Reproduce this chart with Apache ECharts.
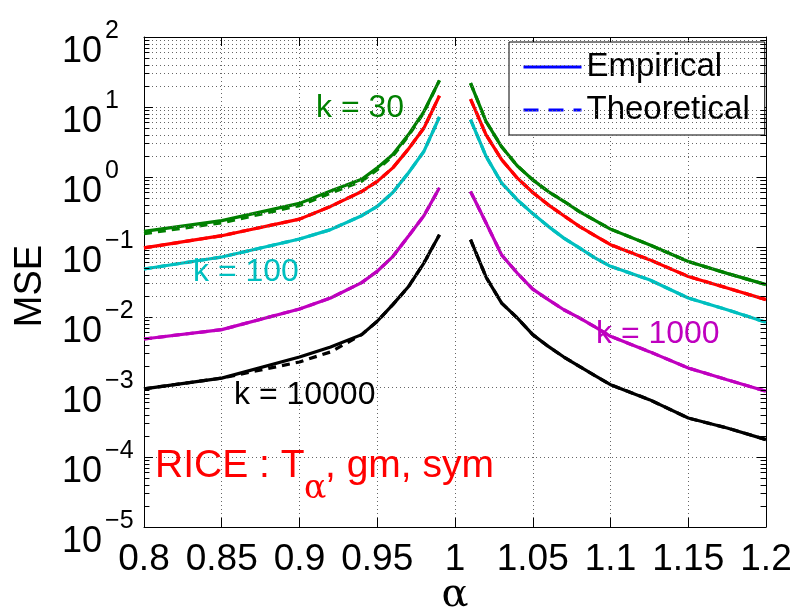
<!DOCTYPE html>
<html>
<head>
<meta charset="utf-8">
<script src="https://cdn.jsdelivr.net/npm/echarts@6/dist/echarts.min.js"></script>
<style>
html,body{margin:0;padding:0;background:#fff;}
#chart{width:801px;height:608px;}
</style>
</head>
<body>
<div id="chart"></div>
<script>
// ---- data ----
const alpha = [0.80,0.85,0.90,0.92,0.94,0.95,0.96,0.97,0.98,0.99,1.00,1.01,1.02,1.03,1.04,1.05,1.06,1.07,1.08,1.09,1.10,1.125,1.15,1.175,1.20];

const k30Emp   = [0.167,0.238,0.42,0.63,0.93,1.35,2.1,4.0,8.6,24, null, 22,6.2,2.7,1.45,0.91,0.62,0.45,0.32,0.24,0.18,0.108,0.062,0.042,0.029];
const k30Theo  = [0.155,0.222,0.39,0.59,0.87,1.27,2.0,3.85,8.4,24, null, 22,6.2,2.7,1.45,0.91,0.62,0.45,0.32,0.24,0.18,0.108,0.062,0.042,0.029];
const k50Emp   = [0.097,0.145,0.25,0.38,0.62,0.865,1.35,2.5,5.0,14.5, null, 13,4.0,1.77,0.97,0.60,0.40,0.28,0.197,0.145,0.108,0.066,0.038,0.026,0.0177];
const k50Theo  = [0.097,0.145,0.25,0.38,0.62,0.865,1.35,2.5,5.0,14.5, null, 13,4.0,1.77,0.97,0.60,0.40,0.28,0.197,0.145,0.108,0.066,0.038,0.026,0.0177];
const k100Emp  = [0.0485,0.072,0.13,0.177,0.28,0.38,0.6,1.14,2.32,7.2, null, 6.6,1.97,0.82,0.474,0.30,0.197,0.134,0.097,0.070,0.053,0.034,0.0187,0.0127,0.0084];
const k100Theo = [0.0485,0.072,0.13,0.177,0.28,0.38,0.6,1.14,2.32,7.2, null, 6.6,1.97,0.82,0.474,0.30,0.197,0.134,0.097,0.070,0.053,0.034,0.0187,0.0127,0.0084];
const k1000Emp = [0.00485,0.0066,0.013,0.0187,0.031,0.045,0.073,0.142,0.28,0.70, null, 0.62,0.22,0.077,0.0425,0.025,0.0177,0.0127,0.0097,0.0072,0.0053,0.0032,0.00187,0.00127,0.00087];
const k1000Theo= [0.00485,0.0066,0.013,0.0187,0.031,0.045,0.073,0.142,0.28,0.70, null, 0.62,0.22,0.077,0.0425,0.025,0.0177,0.0127,0.0097,0.0072,0.0053,0.0032,0.00187,0.00127,0.00087];
const k10000Emp  = [0.00094,0.00134,0.00268,0.00373,0.0056,0.0087,0.015,0.027,0.059,0.15, null, 0.127,0.037,0.0158,0.0097,0.0056,0.0038,0.00268,0.00197,0.00145,0.00108,0.00066,0.00036,0.00026,0.000177];
const k10000Theo = [0.00094,0.00134,0.00228,0.00317,0.0056,0.0087,0.015,0.027,0.059,0.15, null, 0.127,0.037,0.0158,0.0097,0.0056,0.0038,0.00268,0.00197,0.00145,0.00108,0.00066,0.00036,0.00026,0.000177];

const xTicks = [0.8,0.85,0.9,0.95,1,1.05,1.1,1.15,1.2];

const curveColors = ['#008000','#ff0000','#00bfbf','#bf00bf','#000000'];
const empSets  = [k30Emp, k50Emp, k100Emp, k1000Emp, k10000Emp];
const theoSets = [k30Theo, k50Theo, k100Theo, k1000Theo, k10000Theo];

// ---- helpers ----
function pairs(vals){ return alpha.map((a,i)=> [a, vals[i] == null ? '-' : vals[i]]); }

const GRID_COLOR = '#666';
const DOT = [1,3];
const FONT = '"Liberation Sans", Arial, sans-serif';
const SERIF = '"DejaVu Serif", "Liberation Serif", serif';
const LW = 3.2;

// minor log grid values (2..9 x each decade)
const minorVals = [];
for (let d = -5; d < 2; d++) for (let m = 2; m <= 9; m++) minorVals.push(m * Math.pow(10, d));

const minorGrid = minorVals.map(v => ({yAxis: v}));
const minorTicksL = minorVals.map(v => [{coord:[0.8, v]}, {coord:[0.8035, v]}]);
const minorTicksR = minorVals.map(v => [{coord:[1.1965, v]}, {coord:[1.2, v]}]);

function expLabel(v){
  const e = Math.round(Math.log10(v));
  const s = e < 0 ? '\u2212' + (-e) : String(e);
  return '{b|10}{e|' + s + '}';
}

const series = [];
theoSets.forEach((vals, i) => {
  series.push({
    name: 'Theoretical', type: 'line', data: pairs(vals), symbol: 'none', z: 2,
    lineStyle: {color: curveColors[i], width: LW, type: [8,6]},
    itemStyle: {color: curveColors[i]}, connectNulls: false, silent: true
  });
});
empSets.forEach((vals, i) => {
  series.push({
    name: 'Empirical', type: 'line', data: pairs(vals), symbol: 'none', z: 3,
    lineStyle: {color: curveColors[i], width: LW, type: 'solid'},
    itemStyle: {color: curveColors[i]}, connectNulls: false, silent: true
  });
});
series.push({
  name: '_grid', type: 'line', data: [], symbol: 'none', silent: true, z: 1,
  markLine: {
    silent: true, symbol: ['none','none'], animation: false,
    label: {show: false},
    lineStyle: {color: GRID_COLOR, width: 1, type: DOT},
    emphasis: {disabled: true},
    data: minorGrid
  }
});
series.push({
  name: '_ticks', type: 'line', data: [], symbol: 'none', silent: true, z: 4,
  markLine: {
    silent: true, symbol: ['none','none'], animation: false,
    label: {show: false},
    lineStyle: {color: '#000', width: 1, type: 'solid'},
    emphasis: {disabled: true},
    data: minorTicksL.concat(minorTicksR)
  }
});

const hiddenSymbol = {color: 'rgba(0,0,0,0)', borderColor: 'rgba(0,0,0,0)', borderWidth: 0, opacity: 0};

const chart = echarts.init(document.getElementById('chart'), null, {renderer: 'canvas'});
chart.setOption({
  animation: false,
  backgroundColor: '#fff',
  grid: {left: 144, right: 35, top: 37, bottom: 81, containLabel: false, outerBoundsMode: 'none'},
  legend: {
    orient: 'vertical', left: 509, top: 42,
    padding: [8.5, 15, 8.5, 13],
    itemGap: 10, itemWidth: 58, itemHeight: 14,
    backgroundColor: '#fff', borderColor: '#000', borderWidth: 1, borderRadius: 0,
    textStyle: {fontSize: 33, fontFamily: FONT, color: '#000'},
    selectedMode: false,
    data: [
      {name: 'Empirical', itemStyle: hiddenSymbol, lineStyle: {color: '#0000ff', width: 3, type: 'solid', opacity: 1}},
      {name: 'Theoretical', itemStyle: hiddenSymbol, lineStyle: {color: '#0000ff', width: 3, type: [15,10], opacity: 1}}
    ]
  },
  xAxis: [{
    type: 'value', min: 0.8, max: 1.2, interval: 0.05,
    name: '\u03b1', nameLocation: 'middle', nameGap: 49, nameMoveOverlap: false,
    nameTextStyle: {fontSize: 40, fontFamily: SERIF, color: '#000'},
    axisLine: {show: true, onZero: false, lineStyle: {color: '#000', width: 1}},
    axisTick: {show: true, inside: true, length: 9, lineStyle: {color: '#000'}},
    axisLabel: {
      show: true, margin: 14, fontSize: 37, fontFamily: FONT, color: '#000',
      hideOverlap: false, interval: 0,
      formatter: v => { const t = xTicks.find(x => Math.abs(x - v) < 1e-9); return t == null ? '' : String(t); }
    },
    splitLine: {show: true, lineStyle: {color: GRID_COLOR, width: 1, type: DOT}}
  }, {
    type: 'value', min: 0.8, max: 1.2, interval: 0.05, position: 'top',
    axisLine: {show: true, onZero: false, lineStyle: {color: '#000', width: 1}},
    axisTick: {show: true, inside: true, length: 9, lineStyle: {color: '#000'}},
    axisLabel: {show: false}, splitLine: {show: false}
  }],
  yAxis: [{
    type: 'log', logBase: 10, min: 1e-5, max: 100, splitNumber: 7,
    name: 'MSE', nameLocation: 'middle', nameGap: 94, nameRotate: 90,
    nameTextStyle: {fontSize: 38, fontFamily: FONT, color: '#000', padding: [0, 8, 0, 0]},
    axisLine: {show: true, onZero: false, lineStyle: {color: '#000', width: 1}},
    axisTick: {show: true, inside: true, length: 9, lineStyle: {color: '#000'}},
    axisLabel: {
      show: true, margin: 82, align: 'left', color: '#000',
      formatter: expLabel,
      rich: {
        b: {fontSize: 36, fontFamily: FONT, color: '#000', lineHeight: 36, padding: [15.5, 0, 14.5, 0], verticalAlign: 'top'},
        e: {fontSize: 25, fontFamily: FONT, color: '#000', lineHeight: 25, padding: [0, 0, 0, 3], verticalAlign: 'top'}
      }
    },
    splitLine: {show: true, lineStyle: {color: GRID_COLOR, width: 1, type: DOT}}
  }, {
    type: 'log', logBase: 10, min: 1e-5, max: 100, splitNumber: 7, position: 'right',
    axisLine: {show: true, onZero: false, lineStyle: {color: '#000', width: 1}},
    axisTick: {show: true, inside: true, length: 9, lineStyle: {color: '#000'}},
    axisLabel: {show: false}, splitLine: {show: false}
  }],
  series: series,
  graphic: [
    {type: 'text', x: 316, y: 108, style: {text: 'k = 30', fill: '#008000', font: '32px ' + FONT, textAlign: 'left', textVerticalAlign: 'middle', align: 'left', verticalAlign: 'middle'}, z: 10},
    {type: 'text', x: 193, y: 272, style: {text: 'k = 100', fill: '#00bfbf', font: '32px ' + FONT, textAlign: 'left', textVerticalAlign: 'middle', align: 'left', verticalAlign: 'middle'}, z: 10},
    {type: 'text', x: 596, y: 334, style: {text: 'k = 1000', fill: '#bf00bf', font: '32px ' + FONT, textAlign: 'left', textVerticalAlign: 'middle', align: 'left', verticalAlign: 'middle'}, z: 10},
    {type: 'text', x: 234, y: 395, style: {text: 'k = 10000', fill: '#000000', font: '32px ' + FONT, textAlign: 'left', textVerticalAlign: 'middle', align: 'left', verticalAlign: 'middle'}, z: 10},
    {type: 'text', x: 155, y: 466, style: {text: 'RICE : T', fill: '#ff0000', font: '39px ' + FONT, textAlign: 'left', textVerticalAlign: 'middle', align: 'left', verticalAlign: 'middle'}, z: 10},
    {type: 'text', x: 304, y: 489, style: {text: '\u03b1', fill: '#ff0000', font: '33px ' + SERIF, textAlign: 'left', textVerticalAlign: 'middle', align: 'left', verticalAlign: 'middle'}, z: 10},
    {type: 'text', x: 325, y: 466, style: {text: ', gm, sym', fill: '#ff0000', font: '39px ' + FONT, textAlign: 'left', textVerticalAlign: 'middle', align: 'left', verticalAlign: 'middle'}, z: 10}
  ]
});
</script>
</body>
</html>
